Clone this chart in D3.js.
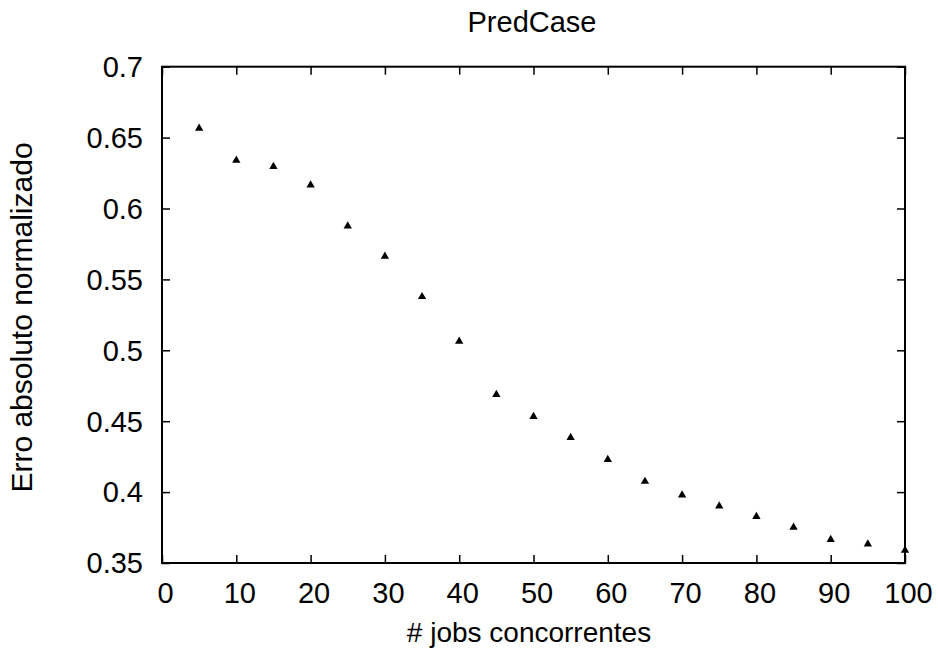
<!DOCTYPE html>
<html>
<head>
<meta charset="utf-8">
<script src="https://cdn.jsdelivr.net/npm/d3@7"></script>
<style>
  html, body { margin: 0; padding: 0; background: #fff; }
  text { font-family: "Liberation Sans", Arial, Helvetica, sans-serif; fill: #000; }
</style>
</head>
<body>
<svg id="chart" width="938" height="655"></svg>
<script>
// Concurrent jobs and the normalized absolute error measured for each
const jobs = [5, 10, 15, 20, 25, 30, 35, 40, 45, 50, 55, 60, 65, 70, 75, 80, 85, 90, 95, 100];
const errors = [0.6565, 0.634, 0.6296, 0.6165, 0.5876, 0.5662, 0.5378, 0.5063, 0.4688, 0.4533,
                0.4385, 0.423, 0.4075, 0.3979, 0.3901, 0.3827, 0.3751, 0.3665, 0.3634, 0.3589];
const xTicks = [0, 10, 20, 30, 40, 50, 60, 70, 80, 90, 100];
const yTicks = [0.35, 0.4, 0.45, 0.5, 0.55, 0.6, 0.65, 0.7];
const titleText = "PredCase";
const xLabelText = "# jobs concorrentes";
const yLabelText = "Erro absoluto normalizado";

const svg = d3.select("#chart");
const plotLeft = 162, plotRight = 905, plotTop = 66.7, plotBottom = 563;
const tickFont = 29;

const x = d3.scaleLinear().domain([0, 100]).range([plotLeft, plotRight]);
const y = d3.scaleLinear().domain([0.35, 0.7]).range([plotBottom, plotTop]);

const tickLen = 8;

// Inward ticks on all four sides, labels on bottom and left only
const axBottom = svg.append("g").attr("transform", `translate(0,${plotBottom})`)
  .call(d3.axisBottom(x).tickValues(xTicks).tickSizeInner(-tickLen).tickSizeOuter(0).tickPadding(19).tickFormat(d3.format("d")));
const axTop = svg.append("g").attr("transform", `translate(0,${plotTop})`)
  .call(d3.axisTop(x).tickValues(xTicks).tickSizeInner(-tickLen).tickSizeOuter(0).tickFormat(""));
const axLeft = svg.append("g").attr("transform", `translate(${plotLeft},0)`)
  .call(d3.axisLeft(y).tickValues(yTicks).tickSizeInner(-tickLen).tickSizeOuter(0).tickPadding(19).tickFormat(d => String(+d.toFixed(2))));
const axRight = svg.append("g").attr("transform", `translate(${plotRight},0)`)
  .call(d3.axisRight(y).tickValues(yTicks).tickSizeInner(-tickLen).tickSizeOuter(0).tickFormat(""));

[axBottom, axTop, axLeft, axRight].forEach(g => {
  g.select(".domain").remove();
  g.selectAll(".tick line").attr("stroke", "#000").attr("stroke-width", 1.5);
  g.selectAll(".tick text").attr("font-size", tickFont).attr("fill", "#000")
    .style("font-family", '"Liberation Sans", Arial, sans-serif');
});
axBottom.selectAll(".tick text").attr("dx", 3);
axLeft.selectAll(".tick text").attr("dy", "0.34em");

// Frame
svg.append("rect")
  .attr("x", plotLeft).attr("y", plotTop)
  .attr("width", plotRight - plotLeft).attr("height", plotBottom - plotTop)
  .attr("fill", "none").attr("stroke", "#000").attr("stroke-width", 2);

// Data points as filled triangles
svg.append("g").selectAll("path")
  .data(jobs.map((j, i) => [j, errors[i]]))
  .join("path")
  .attr("transform", d => `translate(${x(d[0])},${y(d[1])})`)
  .attr("d", d3.symbol().type(d3.symbolTriangle).size(30))
  .attr("fill", "#000");

// Title and axis labels
svg.append("text")
  .attr("x", 532).attr("y", 32)
  .attr("text-anchor", "middle").attr("font-size", 29)
  .text(titleText);

svg.append("text")
  .attr("x", 529).attr("y", 642)
  .attr("text-anchor", "middle").attr("font-size", 28)
  .text(xLabelText);

svg.append("text")
  .attr("transform", `translate(31.5,${317.5}) rotate(-90)`)
  .attr("text-anchor", "middle").attr("font-size", 30)
  .text(yLabelText);
</script>
</body>
</html>
